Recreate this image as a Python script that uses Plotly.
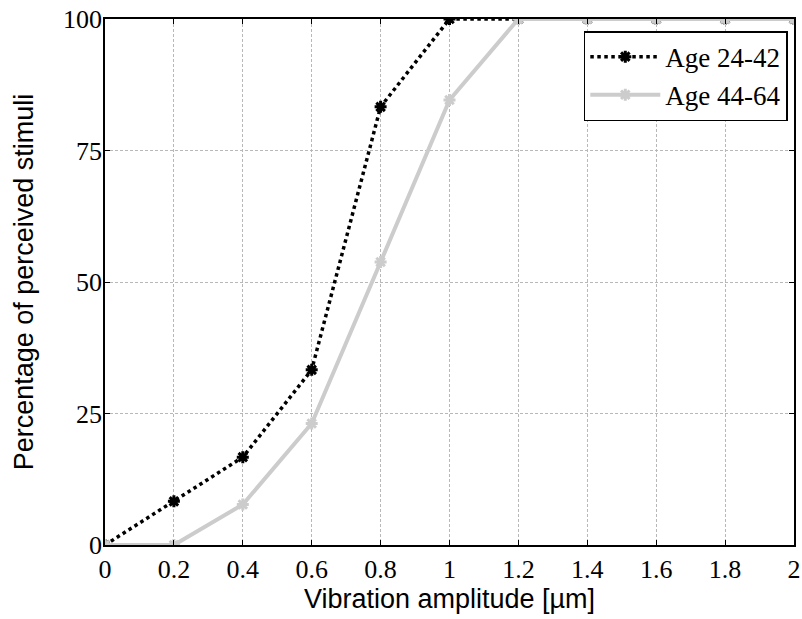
import plotly.graph_objects as go

amplitude = [0, 0.2, 0.4, 0.6, 0.8, 1.0, 1.2, 1.4, 1.6, 1.8, 2.0]
age_24_42 = [0, 8.3, 16.7, 33.3, 83.3, 100, 100, 100, 100, 100, 100]
age_44_64 = [0, 0, 7.7, 23.1, 53.8, 84.6, 100, 100, 100, 100, 100]
x_ticks = [0, 0.2, 0.4, 0.6, 0.8, 1, 1.2, 1.4, 1.6, 1.8, 2]
y_ticks = [0, 25, 50, 75, 100]

fig = go.Figure()
fig.add_trace(go.Scatter(
    x=amplitude, y=age_24_42, name="Age 24-42", mode="lines+markers",
    line=dict(color="black", width=3.5, dash="dot"),
    marker=dict(symbol="asterisk-open", size=10, color="black",
                line=dict(color="black", width=3)),
))
fig.add_trace(go.Scatter(
    x=amplitude, y=age_44_64, name="Age 44-64", mode="lines+markers",
    line=dict(color="#cccccc", width=4),
    marker=dict(symbol="asterisk-open", size=10, color="#cccccc",
                line=dict(color="#cccccc", width=3)),
))

serif = "Liberation Serif, Times New Roman, serif"
sans = "Liberation Sans, Arial, sans-serif"

axis_common = dict(
    showline=True, linecolor="black", linewidth=1.5, mirror="ticks",
    ticks="inside", ticklen=5, tickcolor="black",
    showgrid=True, gridcolor="#b8b8b8", gridwidth=1, griddash="3px,2px",
    zeroline=False, automargin=False,
    tickfont=dict(family=serif, size=26, color="black"),
)

fig.update_xaxes(
    range=[0, 2], tickvals=x_ticks, ticktext=[str(v) for v in x_ticks],
    title=dict(text="Vibration amplitude [µm]", standoff=6,
               font=dict(family=sans, size=27, color="black")),
    **axis_common,
)
fig.update_yaxes(
    range=[0, 100], tickvals=y_ticks,
    title=dict(text="Percentage of perceived stimuli", standoff=22,
               font=dict(family=sans, size=27, color="black")),
    ticklabelstandoff=-4,
    **axis_common,
)

fig.update_layout(
    width=802, height=619,
    margin=dict(l=105, r=8, t=19, b=74),
    plot_bgcolor="white", paper_bgcolor="white",
    showlegend=True,
    legend=dict(
        x=0.991, y=0.977, xanchor="right", yanchor="top",
        bgcolor="white", bordercolor="black", borderwidth=1.5,
        font=dict(family=serif, size=27, color="black"),
        tracegroupgap=0, itemwidth=70,
    ),
)

fig.write_html("out.html", config={"displayModeBar": False},
               post_script="document.body.style.margin='0';")
